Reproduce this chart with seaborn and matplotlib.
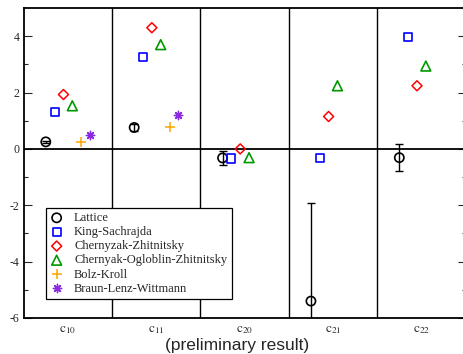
import warnings
import numpy as np
import pandas as pd
import matplotlib
matplotlib.use("Agg")
import matplotlib.pyplot as plt
import seaborn as sns

warnings.filterwarnings("ignore")

# Moments of the distribution amplitude
coefficients = ["c10", "c11", "c20", "c21", "c22"]
tick_labels = [r"$\mathrm{c}_{10}$", r"$\mathrm{c}_{11}$", r"$\mathrm{c}_{20}$",
               r"$\mathrm{c}_{21}$", r"$\mathrm{c}_{22}$"]

models = ["Lattice", "King-Sachrajda", "Chernyzak-Zhitnitsky",
          "Chernyak-Ogloblin-Zhitnitsky", "Bolz-Kroll", "Braun-Lenz-Wittmann"]

lattice = [0.25, 0.76, -0.32, -5.40, -0.31]
lattice_err = [0.03, 0.12, 0.25, 3.47, 0.47]
king_sachrajda = [1.30, 3.27, -0.34, -0.31, 3.98]
chernyzak_zhitnitsky = [1.93, 4.30, 0.0, 1.15, 2.24]
chernyak_ogloblin_zhitnitsky = [1.53, 3.70, -0.31, 2.24, 2.94]
bolz_kroll = [0.25, 0.76, None, None, None]
braun_lenz_wittmann = [0.51, 1.21, None, None, None]

series = [lattice, king_sachrajda, chernyzak_zhitnitsky,
          chernyak_ogloblin_zhitnitsky, bolz_kroll, braun_lenz_wittmann]

colors = ["black", "#0000ff", "#ff0000", "#009900", "#ffa500", "#8a2be2"]
markers = ["o", "s", "D", "^", "+", (8, 2, 0)]
sizes = [44, 34, 26, 50, 50, 36]
widths = [1.2, 1.2, 1.1, 1.2, 1.1, 1.0]
hollow = [True, True, True, True, False, False]

rows = []
for k, (name, vals) in enumerate(zip(models, series)):
    for i, (coef, v) in enumerate(zip(coefficients, vals)):
        if v is None:
            continue
        rows.append({"model": name, "coef": coef, "pos": i + 0.25 + 0.1 * k, "value": v})
df = pd.DataFrame(rows)

sns.set_style("ticks")
plt.rcParams["font.family"] = ["Liberation Serif", "DejaVu Serif"]
plt.rcParams["mathtext.fontset"] = "stix"
plt.rcParams["axes.unicode_minus"] = False

fig = plt.figure(figsize=(4.63, 3.54), dpi=100)
ax = fig.add_axes([0.0512, 0.1017, 0.9544, 0.8757])

# Reference lines: zero and category separators
ax.axhline(0, color="black", lw=1.3, zorder=1)
for b in range(1, len(coefficients)):
    ax.axvline(b, color="black", lw=1.0, zorder=1)

# Lattice error bars
lat = df[df["model"] == "Lattice"]
ax.errorbar(lat["pos"], lat["value"], yerr=lattice_err, fmt="none",
            ecolor="black", elinewidth=1.0, capsize=2.8, capthick=1.0, zorder=2)

for k, name in enumerate(models):
    sub = df[df["model"] == name]
    kws = dict(marker=markers[k], s=sizes[k], linewidth=widths[k], zorder=3)
    if hollow[k]:
        kws.update(color=colors[k], facecolors="none", edgecolor=colors[k])
    else:
        kws.update(color=colors[k], edgecolor=colors[k])
    sns.scatterplot(data=sub, x="pos", y="value", ax=ax, label=name, **kws)

ax.set_xlim(0, len(coefficients))
ax.set_ylim(-6, 5)
ax.set_xticks(np.arange(len(coefficients)) + 0.5)
ax.set_xticklabels(tick_labels, fontsize=9.5)
ax.set_yticks(np.arange(-6, 5, 2))
ax.set_yticks(np.arange(-5, 5, 2), minor=True)
ax.tick_params(axis="x", length=0, pad=4)
ax.tick_params(axis="y", which="major", direction="in", length=5.8, width=0.8,
               left=True, right=True, labelsize=8.5, pad=3)
ax.tick_params(axis="y", which="minor", direction="in", length=3.2, width=0.8,
               left=True, right=True)
for s in ax.spines.values():
    s.set_linewidth(1.3)
    s.set_color("black")

ax.set_xlabel("(preliminary result)", family=["Liberation Sans", "DejaVu Sans"],
              fontsize=12.5)
ax.xaxis.set_label_coords(0.482, -0.063, transform=ax.transAxes)
ax.xaxis.label.set_va("top")
ax.set_ylabel("")

leg = ax.legend(loc="lower left", bbox_to_anchor=(0.0505, 0.061), borderaxespad=0,
                frameon=True, fancybox=False, edgecolor="black", framealpha=1,
                fontsize=9, handlelength=1.0, handletextpad=0.9,
                labelspacing=0.17, borderpad=0.35)
leg.get_frame().set_linewidth(0.9)

fig.savefig("out.png", dpi=100)
